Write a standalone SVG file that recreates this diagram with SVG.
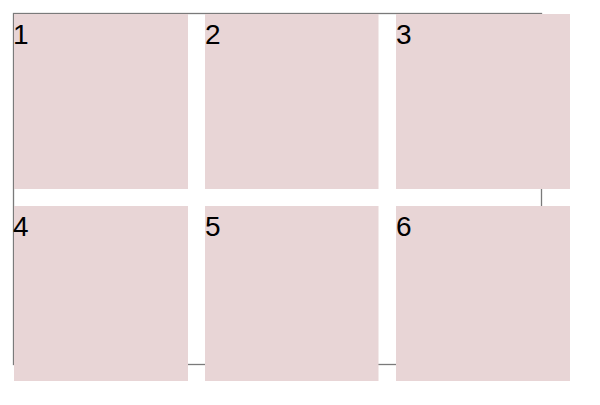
<svg xmlns="http://www.w3.org/2000/svg" width="600" height="405" viewBox="0 0 600 405">
<style>
.box{fill:#e8d5d6}
.lbl{font-family:"Liberation Sans",Arial,sans-serif;font-size:28px;fill:#000}
</style>
<rect width="600" height="405" fill="#fff"/>
<g id="container"><rect x="13.5" y="13.5" width="528" height="351" fill="none" stroke="#7a7a7a" stroke-width="1.3"/></g>
<g id="connectors"></g>
<g id="n1"><rect class="box" x="14" y="14" width="174" height="175"/><text class="lbl" x="13" y="44">1</text></g>
<g id="n2"><rect class="box" x="205" y="14" width="173.5" height="175"/><text class="lbl" x="205" y="44">2</text></g>
<g id="n3"><rect class="box" x="396" y="14" width="174" height="175"/><text class="lbl" x="396" y="44">3</text></g>
<g id="n4"><rect class="box" x="14" y="206" width="174" height="175"/><text class="lbl" x="13" y="236">4</text></g>
<g id="n5"><rect class="box" x="205" y="206" width="173.5" height="175"/><text class="lbl" x="205" y="236">5</text></g>
<g id="n6"><rect class="box" x="396" y="206" width="174" height="175"/><text class="lbl" x="396" y="236">6</text></g>
</svg>
